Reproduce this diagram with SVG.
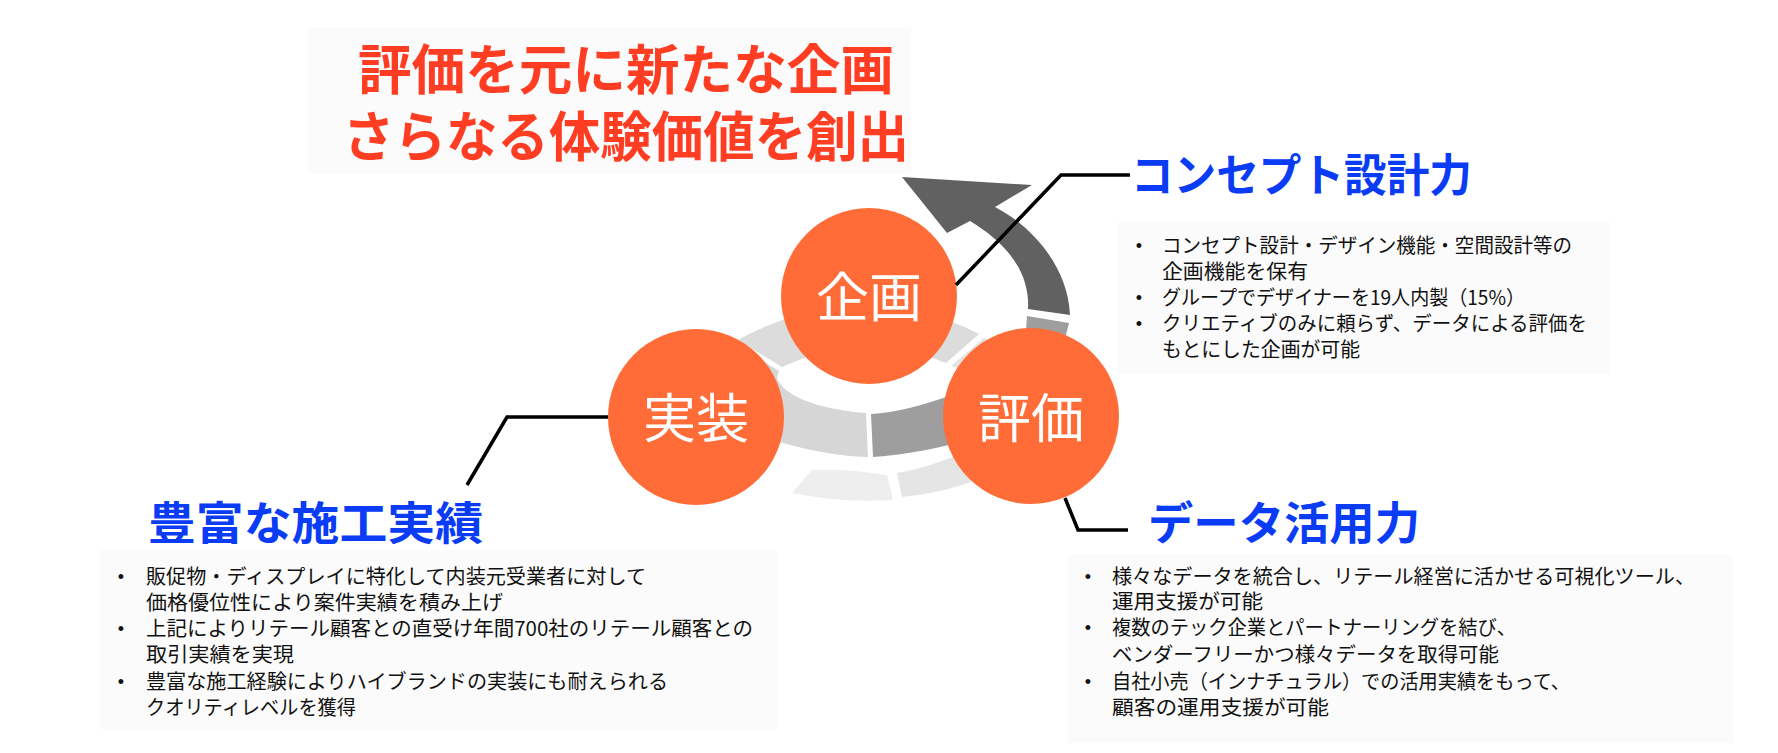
<svg xmlns="http://www.w3.org/2000/svg" width="1778" height="753" viewBox="0 0 1778 753">
<defs>
<style>
.jp{font-family:"Noto Sans CJK JP","Noto Sans CJK SC",sans-serif}
.title{font-size:54px;font-weight:700;fill:#FF3D22}
.head{font-size:45px;font-weight:700;fill:#0A3CF5}
.body{font-size:20px;fill:#111111}
.bul{font-family:"Liberation Sans",sans-serif;font-size:18px;fill:#111111;text-anchor:middle}
.circ{fill:#FF6C38}
.ctext{font-size:53px;fill:#ffffff;text-anchor:middle}
.conn{fill:none;stroke:#000000;stroke-width:3.5;stroke-linejoin:miter}
.bg{fill:#FBFBFB}
</style>
</defs>
<rect width="1778" height="753" fill="#ffffff"/>

<!-- faint backgrounds -->
<rect class="bg" x="308" y="28" width="603" height="145"/>
<rect class="bg" x="1117" y="222" width="493" height="152"/>
<rect class="bg" x="100" y="550" width="677" height="179"/>
<rect class="bg" x="1068" y="555" width="665" height="188"/>

<!-- spiral ring -->
<g id="ring">
<path fill="#DCDCDC" d="M738,340 Q760,327 800,314 L830,330 L815,354 Q798,360 782,367 Z"/>
<path fill="#D6D6D6" d="M735,344 L779,371 L777,378 C783,395 815,409 866,413 L868,457 C835,456 800,449 760,436 L720,400 Z"/>
<path fill="#9E9E9E" d="M871,414 C895,413 925,405 960,392 L975,438 C945,447 905,455 873,457 Z"/>
<path fill="#EEEEEE" d="M812,470 Q850,469 887,475 L893,500 Q840,503 792,493 Z"/>
<path fill="#E5E5E5" d="M897,473 Q928,468 965,452 L982,478 Q945,493 902,497 Z"/>
<path fill="#DCDCDC" d="M940,318 Q962,325 979,334 L946,363 Q938,360 925,355 Z"/>
<path fill="#E3E3E3" d="M984,338 L1000,345 L970,372 L951,366 Z"/>
<path fill="#9E9E9E" d="M1027,316 L1069,323 L1062,350 L1025,345 Z"/>
<path id="arrow" fill="#616161" d="M902,177 L1032,185 L995,207 C1030,225 1068,265 1070,315 L1028,309 C1030,275 1010,245 970,221 L947,233 Z"/>
</g>

<!-- nodes -->
<g id="node-kikaku">
<circle class="circ" cx="869" cy="296" r="88"/>
<text class="jp ctext" x="869" y="317">企画</text>
</g>
<g id="node-jisso">
<circle class="circ" cx="696" cy="417" r="88"/>
<text class="jp ctext" x="696" y="438">実装</text>
</g>
<g id="node-hyoka">
<circle class="circ" cx="1031" cy="416" r="88"/>
<text class="jp ctext" x="1031" y="438">評価</text>
</g>

<!-- connectors -->
<g id="connectors">
<polyline class="conn" points="956,285 1061,175 1130,175"/>
<polyline class="conn" points="608,417 507,417 467,485"/>
<polyline class="conn" points="1065,498 1078,530 1128,530"/>
</g>

<!-- main title -->
<g id="main-title">
<text class="jp title" x="358" y="90" textLength="536" lengthAdjust="spacingAndGlyphs">評価を元に新たな企画</text>
<text class="jp title" x="343" y="157" textLength="566" lengthAdjust="spacingAndGlyphs">さらなる体験価値を創出</text>
</g>

<!-- concept -->
<g id="label-concept">
<text class="jp head" x="1131" y="192" textLength="341" lengthAdjust="spacingAndGlyphs">コンセプト設計力</text>
<text class="bul" x="1139" y="252">•</text>
<text class="bul" x="1139" y="304">•</text>
<text class="bul" x="1139" y="330">•</text>
<text class="jp body" x="1162" y="253" textLength="410" lengthAdjust="spacingAndGlyphs">コンセプト設計・デザイン機能・空間設計等の</text>
<text class="jp body" x="1162" y="279" textLength="146" lengthAdjust="spacingAndGlyphs">企画機能を保有</text>
<text class="jp body" x="1162" y="305" textLength="363" lengthAdjust="spacingAndGlyphs">グループでデザイナーを19人内製（15%）</text>
<text class="jp body" x="1162" y="331" textLength="425" lengthAdjust="spacingAndGlyphs">クリエティブのみに頼らず、データによる評価を</text>
<text class="jp body" x="1162" y="357" textLength="198" lengthAdjust="spacingAndGlyphs">もとにした企画が可能</text>
</g>

<!-- construction -->
<g id="label-construction">
<text class="jp head" x="148" y="540" textLength="335" lengthAdjust="spacingAndGlyphs">豊富な施工実績</text>
<text class="bul" x="121" y="583">•</text>
<text class="bul" x="121" y="635">•</text>
<text class="bul" x="121" y="688">•</text>
<text class="jp body" x="146" y="584" textLength="500" lengthAdjust="spacingAndGlyphs">販促物・ディスプレイに特化して内装元受業者に対して</text>
<text class="jp body" x="146" y="610" textLength="357" lengthAdjust="spacingAndGlyphs">価格優位性により案件実績を積み上げ</text>
<text class="jp body" x="146" y="636" textLength="607" lengthAdjust="spacingAndGlyphs">上記によりリテール顧客との直受け年間700社のリテール顧客との</text>
<text class="jp body" x="146" y="662" textLength="148" lengthAdjust="spacingAndGlyphs">取引実績を実現</text>
<text class="jp body" x="146" y="689" textLength="522" lengthAdjust="spacingAndGlyphs">豊富な施工経験によりハイブランドの実装にも耐えられる</text>
<text class="jp body" x="146" y="715" textLength="210" lengthAdjust="spacingAndGlyphs">クオリティレベルを獲得</text>
</g>

<!-- data -->
<g id="label-data">
<text class="jp head" x="1148" y="540" textLength="272" lengthAdjust="spacingAndGlyphs">データ活用力</text>
<text class="bul" x="1088" y="583">•</text>
<text class="bul" x="1088" y="634">•</text>
<text class="bul" x="1088" y="688">•</text>
<text class="jp body" x="1112" y="584" textLength="583" lengthAdjust="spacingAndGlyphs">様々なデータを統合し、リテール経営に活かせる可視化ツール、</text>
<text class="jp body" x="1112" y="609" textLength="151" lengthAdjust="spacingAndGlyphs">運用支援が可能</text>
<text class="jp body" x="1112" y="635" textLength="404" lengthAdjust="spacingAndGlyphs">複数のテック企業とパートナーリングを結び、</text>
<text class="jp body" x="1112" y="662" textLength="387" lengthAdjust="spacingAndGlyphs">ベンダーフリーかつ様々データを取得可能</text>
<text class="jp body" x="1112" y="689" textLength="458" lengthAdjust="spacingAndGlyphs">自社小売（インナチュラル）での活用実績をもって、</text>
<text class="jp body" x="1112" y="715" textLength="217" lengthAdjust="spacingAndGlyphs">顧客の運用支援が可能</text>
</g>
</svg>
